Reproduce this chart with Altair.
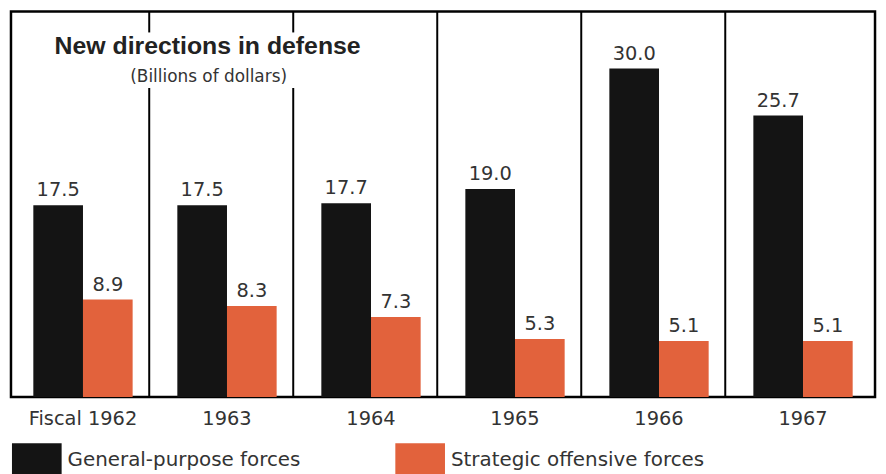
import altair as alt
import pandas as pd

years = ["Fiscal 1962", "1963", "1964", "1965", "1966", "1967"]
general = [17.5, 17.5, 17.7, 19.0, 30.0, 25.7]
strategic = [8.9, 8.3, 7.3, 5.3, 5.1, 5.1]
series = ["General-purpose forces", "Strategic offensive forces"]
colors = ["#141414", "#E2623C"]
title_text = "New directions in defense"
subtitle_text = "(Billions of dollars)"

rows = []
for y, g, s in zip(years, general, strategic):
    rows.append({"year": y, "series": series[0], "value": g})
    rows.append({"year": y, "series": series[1], "value": s})
df = pd.DataFrame(rows)

W, H = 870, 388
xscale = alt.Scale(domain=years, paddingInner=0, paddingOuter=0)
yscale = alt.Scale(domain=[0, 35.2], nice=False, zero=True)
offscale = alt.Scale(domain=series, paddingInner=0, paddingOuter=0.45)

def xaxis():
    return alt.Axis(title=None, domain=False, ticks=False, tickSize=0, labelAngle=0,
                    bandPosition=0.5, labelAlign="center", labelBaseline="top",
                    labelFont="DejaVu Sans", labelFontSize=19.5, labelColor="#333333",
                    labelPadding=13, grid=False)

base = alt.Chart(df)

bars = base.mark_bar(size=50).encode(
    x=alt.X("year:N", scale=xscale, sort=years, axis=xaxis()),
    xOffset=alt.XOffset("series:N", scale=offscale, sort=series),
    y=alt.Y("value:Q", scale=yscale, axis=None),
    color=alt.Color("series:N", scale=alt.Scale(domain=series, range=colors),
                    legend=alt.Legend(title=None, orient="none", legendX=1, legendY=426,
                                      direction="horizontal",
                                      symbolType="M-1,-0.66H1V0.66H-1Z", symbolSize=2500,
                                      symbolStrokeWidth=0, symbolOpacity=1,
                                      labelFont="DejaVu Sans", labelFontSize=20,
                                      labelColor="#333333", labelOffset=6,
                                      columnPadding=95, labelLimit=400)),
)

labels = base.mark_text(font="DejaVu Sans", fontSize=19.5, color="#333333",
                        baseline="alphabetic", dy=-9).encode(
    x=alt.X("year:N", scale=xscale, sort=years, axis=xaxis()),
    xOffset=alt.XOffset("series:N", scale=offscale, sort=series),
    y=alt.Y("value:Q", scale=yscale, axis=None),
    text=alt.Text("value:Q", format=".1f"),
)

div_years = years[:5]
div_split = [True, True, False, False, False]
div_df = pd.DataFrame({"year": div_years, "split": div_split})

def rule_layer(d, y0, y1):
    return alt.Chart(d).mark_rule(color="black", strokeWidth=2).encode(
        x=alt.X("year:N", scale=xscale, sort=years, bandPosition=0.96, axis=xaxis()),
        y=alt.value(y0), y2=alt.value(y1),
    )

full_rules = rule_layer(div_df[~div_df["split"]], 0, H)
top_rules = rule_layer(div_df[div_df["split"]], 0, 21)
low_rules = rule_layer(div_df[div_df["split"]], 77, H)

title = alt.Chart(pd.DataFrame({"t": [title_text]})).mark_text(
    font="Liberation Sans", fontWeight="bold", fontSize=25, color="#222222",
    align="center", baseline="alphabetic").encode(
    text="t:N", x=alt.value(198), y=alt.value(43))
subtitle = alt.Chart(pd.DataFrame({"t": [subtitle_text]})).mark_text(
    font="DejaVu Sans", fontSize=17, color="#333333",
    align="center", baseline="alphabetic").encode(
    text="t:N", x=alt.value(199), y=alt.value(71))

chart = alt.layer(bars, labels, full_rules, top_rules, low_rules, title, subtitle).properties(
    width=W, height=H,
    autosize=alt.AutoSizeParams(type="none"),
    padding={"left": 3, "top": 2, "right": 3, "bottom": 78},
    background="white",
).configure_view(stroke="black", strokeWidth=2.5).configure_axis(grid=False)

chart.save("out.html", embed_options={"renderer": "svg", "actions": False})
